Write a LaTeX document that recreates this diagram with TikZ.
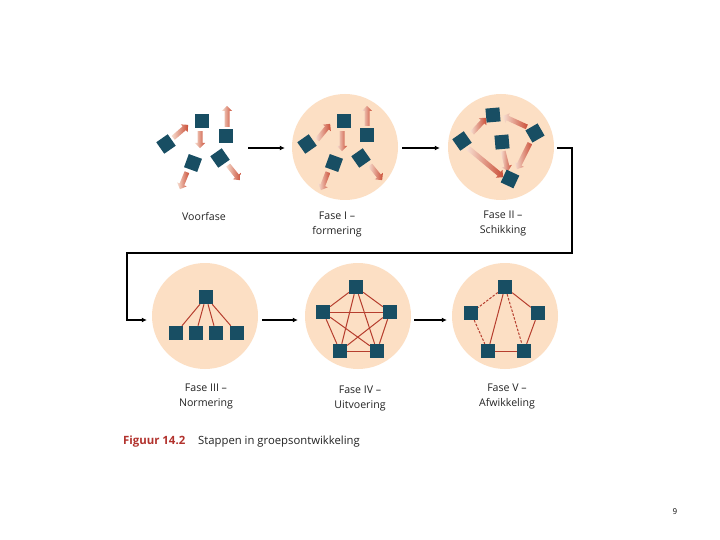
\documentclass[tikz,border=0pt]{standalone}
\usepackage{fontspec}
\setmainfont{Open Sans}
\usetikzlibrary{shapes.arrows,arrows.meta,calc}
\definecolor{peach}{RGB}{252,223,196}
\definecolor{sqcol}{RGB}{24,78,99}
\definecolor{edgered}{RGB}{182,62,46}
\definecolor{arrlight}{RGB}{247,222,208}
\definecolor{arrdark}{RGB}{202,78,55}
\definecolor{txt}{RGB}{35,35,35}
\definecolor{capred}{RGB}{178,50,45}
\tikzset{
 phase/.style={circle, fill=peach, minimum size=106pt, inner sep=0pt},
 ghost/.style={circle, minimum size=88pt, inner sep=0pt},
 sq/.style={fill=sqcol, minimum size=14pt, inner sep=0pt, draw=none},
 link/.style={draw=edgered, line width=1pt},
 dlink/.style={link, dash pattern=on 2.5pt off 1.5pt},
 conn/.style={draw=black, line width=1.2pt, -{Latex[length=5pt,width=5pt]}},
 marr/.style={single arrow, inner sep=0pt, inner ysep=2.3pt, single arrow head extend=2.7pt, left color=arrlight, right color=arrdark, draw=none, anchor=tail},
 lab/.style={align=center, font=\fontsize{10.6}{15}\selectfont, text=txt},
}
\newcommand\marrow[2]{\path let \p1=($(#2)-(#1)$), \n1={atan2(\y1,\x1)}, \n2={veclen(\x1,\y1)} in node[marr, minimum height=\n2, rotate=\n1] at (#1) {};}
\begin{document}
\begin{tikzpicture}[x=1pt,y=-1pt]
\useasboundingbox[fill=white] (0,0) rectangle (720,540);
% phase backgrounds
\node[ghost] (c0) at (204,148) {};
\node[phase] (c1) at (345,147) {};
\node[phase] (c2) at (501,147) {};
\node[phase] (c3) at (205,316) {};
\node[phase] (c4) at (358,316) {};
\node[phase] (c5) at (505,316) {};
% motion arrows: Voorfase
\marrow{173,138}{188,125}
\marrow{200,131}{200,148}
\marrow{227,127}{227,106}
\marrow{187,172}{180,189}
\marrow{228,165}{240,180}
% Fase I
\marrow{317,140}{330,124}
\marrow{342,131}{342,151}
\marrow{367,126}{367,106}
\marrow{328,172}{321,190}
\marrow{370,165}{382,180}
% Fase II
\marrow{472,133}{486,118}
\marrow{527,127}{503,116}
\marrow{468,148}{503,177}
\marrow{503,151}{508,171}
\marrow{530,143}{517,169}
% squares Voorfase
\node[sq] (v1) at (202,121) {};
\node[sq] (v2) at (226,136) {};
\node[sq,rotate=35] (v3) at (166,144) {};
\node[sq,rotate=-20] (v4) at (193,163) {};
\node[sq,rotate=35] (v5) at (220,158) {};
% squares Fase I
\node[sq] (f1) at (344,121) {};
\node[sq] (f2) at (367,135) {};
\node[sq,rotate=35] (f3) at (307,144) {};
\node[sq,rotate=-20] (f4) at (334,163) {};
\node[sq,rotate=35] (f5) at (361,158) {};
% squares Fase II
\node[sq,rotate=5] (s1) at (493,115) {};
\node[sq,rotate=35] (s2) at (462,141) {};
\node[sq,rotate=5] (s3) at (502,142) {};
\node[sq,rotate=30] (s4) at (535,133) {};
\node[sq,rotate=-25] (s5) at (510,179) {};
% Fase III
\node[sq] (n0) at (206,297) {};
\node[sq] (n1) at (176,333) {};
\node[sq] (n2) at (196,333) {};
\node[sq] (n3) at (216,333) {};
\node[sq] (n4) at (237,333) {};
\foreach \b in {n1,n2,n3,n4} \draw[link] (n0) -- (\b);
% Fase IV
\node[sq] (u1) at (356,287) {};
\node[sq] (u2) at (323,312) {};
\node[sq] (u3) at (390,312) {};
\node[sq] (u4) at (340,351) {};
\node[sq] (u5) at (377,351) {};
\foreach \a/\b in {u1/u2,u1/u3,u1/u4,u1/u5,u2/u3,u2/u4,u2/u5,u3/u4,u3/u5,u4/u5} \draw[link] (\a) -- (\b);
% Fase V
\node[sq] (a1) at (505,287) {};
\node[sq] (a2) at (471,313) {};
\node[sq] (a3) at (538,313) {};
\node[sq] (a4) at (488,351) {};
\node[sq] (a5) at (524,351) {};
\draw[dlink] (a1) -- (a2);
\draw[dlink] (a2) -- (a4);
\draw[dlink] (a1) -- (a5);
\draw[link] (a1) -- (a4);
\draw[link] (a1) -- (a3);
\draw[link] (a3) -- (a5);
\draw[link] (a4) -- (a5);
% connectors
\draw[conn] ($(c0.east)+(0,0)$) -- ($(c1.west)+(-7,1)$);
\draw[conn] ($(c1.east)+(4,1)$) -- ($(c2.west)+(-8,1)$);
\coordinate (k1) at (572,148);
\coordinate (k2) at (572,253);
\coordinate (k3) at (127,253);
\coordinate (k4) at (127,320);
\draw[conn] ($(c2.east)+(3,1)$) -- (k1) -- (k2) -- (k3) -- (k4) -- ($(c3.west)+(-5,4)$);
\draw[conn] ($(c3.east)+(4,4)$) -- ($(c4.west)+(-7,4)$);
\draw[conn] ($(c4.east)+(3,4)$) -- ($(c5.west)+(-5,4)$);
% labels
\node[lab] (l0) at (204,216) {Voorfase};
\node[lab] (l1) at (337,224) {Fase I –\\formering};
\node[lab] (l2) at (503,223) {Fase II –\\Schikking};
\node[lab] (l3) at (206,396) {Fase III –\\Normering};
\node[lab] (l4) at (360,398) {Fase IV –\\Uitvoering};
\node[lab] (l5) at (507,396) {Fase V –\\Afwikkeling};
\node[anchor=base west, inner sep=0pt, text=capred, font=\fontsize{11.4}{13}\selectfont\bfseries] (cap1) at (123,444) {Figuur 14.2};
\node[anchor=base west, inner sep=0pt, text=txt, font=\fontsize{11.3}{13}\selectfont] (cap2) at (198,444) {Stappen in groepsontwikkeling};
\node[font=\fontsize{8}{10}\selectfont] (pg) at (675,512) {9};
\end{tikzpicture}
\end{document}
